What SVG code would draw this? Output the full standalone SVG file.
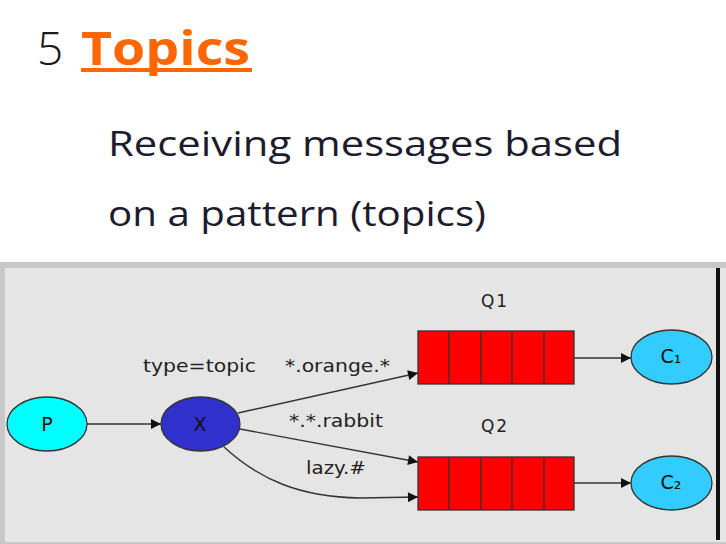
<svg xmlns="http://www.w3.org/2000/svg" width="726" height="544" viewBox="0 0 726 544">
<defs>
<style>
.h{font-family:"Open Sans","Lato","Liberation Sans",sans-serif}
.d{font-family:"DejaVu Sans","Liberation Sans",sans-serif;font-size:17px;fill:#222}
.n{font-family:"DejaVu Sans","Liberation Sans",sans-serif;font-size:19px;fill:#111}
.e{stroke:#333;stroke-width:1.4;fill:none}
.nd{stroke:#333;stroke-width:1.3}
.q{fill:#ff0000;stroke:#333;stroke-width:1.3}
</style>
<marker id="ah" viewBox="0 0 10 10" refX="10" refY="5" markerWidth="15" markerHeight="10" markerUnits="userSpaceOnUse" orient="auto">
<path d="M0,0 L10,5 L0,10 z" fill="#111"/>
</marker>
</defs>
<rect width="726" height="544" fill="#ffffff"/>
<g id="heading">
<text class="h" x="37" y="65" font-size="46" font-weight="300" fill="#1a1a1a">5</text>
<text class="h" x="81" y="65" font-size="46" font-weight="700" fill="#ff6600" textLength="169" lengthAdjust="spacingAndGlyphs">Topics</text>
<rect x="81" y="68" width="171" height="4" fill="#ff6600"/>
<text class="h" x="108" y="156" font-size="35" fill="#1c1c2e" textLength="514" lengthAdjust="spacingAndGlyphs">Receiving messages based</text>
<text class="h" x="108" y="226" font-size="35" fill="#1c1c2e" textLength="378" lengthAdjust="spacingAndGlyphs">on a pattern (topics)</text>
</g>
<g id="panel">
<rect x="0" y="262" width="726" height="282" fill="#c8c8c8"/>
<rect x="5" y="268" width="721" height="274" fill="#e5e5e5"/>
<rect x="716" y="268" width="4" height="272" fill="#111"/>
</g>
<g id="connectors">
<line class="e" x1="87" y1="424" x2="161" y2="424" marker-end="url(#ah)"/>
<line class="e" x1="238" y1="413" x2="418" y2="373" marker-end="url(#ah)"/>
<line class="e" x1="240" y1="429" x2="418" y2="462" marker-end="url(#ah)"/>
<path class="e" d="M224,447 C260,480 300,497 360,498 L418,497" marker-end="url(#ah)"/>
<line class="e" x1="574" y1="358" x2="631" y2="358" marker-end="url(#ah)"/>
<line class="e" x1="574" y1="483" x2="631" y2="483" marker-end="url(#ah)"/>
<text class="d" x="143" y="372" textLength="113" lengthAdjust="spacingAndGlyphs">type=topic</text>
<text class="d" x="285" y="372" textLength="105" lengthAdjust="spacingAndGlyphs">*.orange.*</text>
<text class="d" x="289" y="427" textLength="94" lengthAdjust="spacingAndGlyphs">*.*.rabbit</text>
<text class="d" x="306" y="474" textLength="60" lengthAdjust="spacingAndGlyphs">lazy.#</text>
</g>
<g id="P">
<ellipse class="nd" cx="47" cy="424" rx="40" ry="27" fill="#00ffff"/>
<text class="n" x="47" y="431" text-anchor="middle">P</text>
</g>
<g id="X">
<ellipse class="nd" cx="200.5" cy="424" rx="39.5" ry="27" fill="#3030cc"/>
<text class="n" x="200" y="431" text-anchor="middle" fill="#10104a">X</text>
</g>
<g id="Q1">
<text class="d" x="495" y="307" text-anchor="middle" letter-spacing="2">Q1</text>
<rect class="q" x="418" y="331" width="156" height="53"/>
<path class="nd" d="M449,331V384M481,331V384M512,331V384M544,331V384" fill="none"/>
</g>
<g id="Q2">
<text class="d" x="495" y="432" text-anchor="middle" letter-spacing="2">Q2</text>
<rect class="q" x="418" y="457" width="156" height="53"/>
<path class="nd" d="M449,457V510M481,457V510M512,457V510M544,457V510" fill="none"/>
</g>
<g id="C1">
<ellipse class="nd" cx="671.5" cy="357" rx="40.5" ry="27" fill="#33ccff"/>
<text class="n" x="671" y="363" text-anchor="middle" font-size="17">C₁</text>
</g>
<g id="C2">
<ellipse class="nd" cx="671.5" cy="483" rx="40.5" ry="27" fill="#33ccff"/>
<text class="n" x="671" y="489" text-anchor="middle" font-size="17">C₂</text>
</g>
</svg>
